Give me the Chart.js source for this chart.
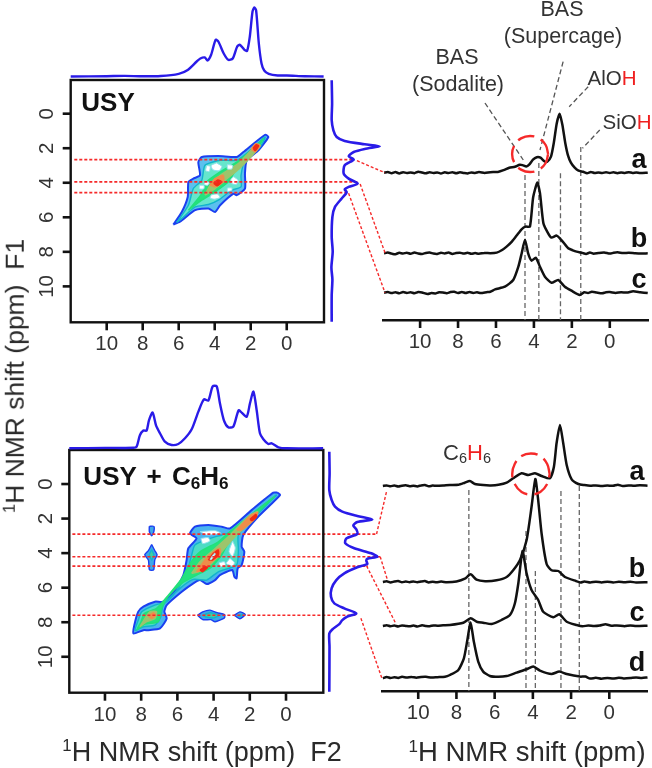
<!DOCTYPE html>
<html>
<head>
<meta charset="utf-8">
<script src="https://cdn.jsdelivr.net/npm/chart.js@4"></script>
<style>
  html, body { margin: 0; padding: 0; background: #fff; }
  #fig { position: relative; width: 652px; height: 768px; overflow: hidden; font-family: "Liberation Sans", Arial, sans-serif; color: #333; filter: blur(0.4px); }
  #fig canvas { position: absolute; left: 0; top: 0; }
  .lbl { position: absolute; transform: translate(-50%, -50%); white-space: nowrap; font-size: 21.5px; line-height: 1; }
  .bold { font-weight: bold; color: #111; }
  .trace { font-size: 27px; }
  .title { font-size: 26.5px; color: #2a2a2a; }
  .red { color: #f02020; }
  sub { font-size: 0.66em; vertical-align: -0.22em; line-height: 0; }
  sup { font-size: 0.62em; vertical-align: 0.55em; line-height: 0; }
</style>
</head>
<body>
<div id="fig">
  <canvas id="c1" width="652" height="768"></canvas>
  <canvas id="c2" width="652" height="768"></canvas>
  <canvas id="c3" width="652" height="768"></canvas>
  <canvas id="c4" width="652" height="768"></canvas>
  <canvas id="c5" width="652" height="768"></canvas>
  <canvas id="c6" width="652" height="768"></canvas>
  <canvas id="c7" width="652" height="768"></canvas>
  <canvas id="c8" width="652" height="768"></canvas>

  <div class="lbl bold" style="left:108px;top:102px;font-size:26px">USY</div>
  <div class="lbl bold" style="left:156px;top:476px;font-size:26px;word-spacing:3px">USY + C<sub>6</sub>H<sub>6</sub></div>

  <div class="lbl" style="left:562px;top:10px">BAS</div>
  <div class="lbl" style="left:563px;top:37px">(Supercage)</div>
  <div class="lbl" style="left:457px;top:58px">BAS</div>
  <div class="lbl" style="left:458px;top:85px">(Sodalite)</div>
  <div class="lbl" style="left:612px;top:78px;font-size:20.5px">AlO<span class="red">H</span></div>
  <div class="lbl" style="left:627px;top:122px;font-size:20.5px">SiO<span class="red">H</span></div>
  <div class="lbl" style="left:467px;top:453px;font-size:22px">C<sub>6</sub><span class="red">H</span><sub>6</sub></div>

  <div class="lbl bold trace" style="left:639px;top:159px">a</div>
  <div class="lbl bold trace" style="left:639px;top:238px">b</div>
  <div class="lbl bold trace" style="left:639px;top:279px">c</div>
  <div class="lbl bold trace" style="left:637px;top:471px">a</div>
  <div class="lbl bold trace" style="left:637px;top:568px">b</div>
  <div class="lbl bold trace" style="left:637px;top:612px">c</div>
  <div class="lbl bold trace" style="left:637px;top:662px">d</div>

  <div class="lbl title" style="left:15px;top:376px;transform:translate(-50%,-50%) rotate(-90deg)"><sup>1</sup>H NMR shift (ppm)&nbsp; F1</div>
  <div class="lbl title" style="left:202px;top:752px;font-size:27px"><sup>1</sup>H NMR shift (ppm)&nbsp; F2</div>
  <div class="lbl title" style="left:527px;top:752px;font-size:27.5px"><sup>1</sup>H NMR shift (ppm)</div>
</div>

<script>
// tick labels
const ppmTicks = [10, 8, 6, 4, 2, 0];

// red slice positions in F1 (ppm) and how far right each dash runs
const slicesTop = [2.66, 3.95, 4.57];
const sliceEndsTop = [-3.67, -3.94, -3.33];
const slicesBot = [2.9, 4.21, 4.75, 7.6];
const sliceEndsBot = [-5.0, -5.2, -4.53, -3.9];

// F2 projections [ppm, intensity]
const projTopUsy = [[12,0],[10,.3],[9,.6],[8,.2],[7,.5],[6,2.7],[5.5,6.6],[5,15],[4.8,18],[4.55,19],[4.4,16],[4.2,21.7],[3.95,36.7],[3.8,35],[3.5,23],[3.25,16.7],[3,18],[2.75,30],[2.6,31.7],[2.35,26.7],[2.2,25.7],[2.05,40],[1.9,65],[1.8,69],[1.7,66],[1.55,33],[1.4,13],[1.25,6],[1,2.7],[.5,1],[0,1],[-1,.3],[-2.05,0]];
const projTopBenz = [[11.97,0],[10,.4],[8.43,.5],[8.25,1.7],[8.07,13],[7.88,17.7],[7.7,17.7],[7.57,28],[7.37,35.7],[7.18,23],[6.96,15],[6.69,6.7],[6.32,3.3],[5.95,4.3],[5.58,10],[5.21,19],[4.84,36.7],[4.53,49],[4.29,47.7],[4.05,62],[3.83,62],[3.65,45],[3.43,28],[3.19,21],[2.91,21.7],[2.62,38],[2.45,35.7],[2.17,31.7],[1.99,45],[1.8,56.7],[1.62,38],[1.44,15],[1.25,9],[.98,4.3],[.79,5],[.42,1],[-.04,0],[-2.05,0]];

// F1 projections [intensity, ppm]
const projRightUsy = [[0,-1.93],[.4,-.58],[0,.38],[1.7,.96],[5,1.35],[13,1.58],[33,1.77],[48,1.89],[33,2.04],[22,2.22],[17,2.47],[22,2.66],[13,2.99],[12,3.47],[17,3.76],[26,4.05],[17,4.24],[13,4.39],[15,4.55],[10,4.91],[3.3,5.4],[.7,5.97],[0,7.13],[1,8],[-.3,8.9],[.7,9.6],[0,10.5],[0,12.05]];
const projRightBenz = [[0,-1.87],[.3,-.62],[0,.35],[2.3,.92],[5.7,1.31],[13,1.6],[28,1.85],[43,2.05],[28,2.2],[24,2.39],[27,2.62],[28,2.89],[17,3.15],[16,3.43],[25,3.72],[42,4.01],[48,4.21],[38,4.32],[37,4.44],[38,4.63],[28,4.82],[15,5.17],[7,5.56],[2.3,6.04],[1.7,6.53],[5,6.91],[15,7.2],[27,7.49],[18,7.68],[13,7.88],[10,8.11],[3,8.42],[0,8.65],[.2,9.42],[0,12.02]];

// 1D slices [ppm, height]
const usyA = [[11.9,0],[11.7,.8],[11.5,-.5],[11.3,.6],[11.1,-.7],[10.9,.5],[10.7,-.3],[10.5,.2],[10.3,-.5],[10.1,1],[9.9,.2],[9.7,-.6],[9.5,.5],[9.3,-.3],[9.1,.3],[8.9,-.8],[8.7,.4],[8.5,-.4],[8.3,.5],[8.1,-.6],[7.9,.5],[7.7,-.2],[7.5,-.7],[7.3,.3],[7.1,-.3],[6.9,.6],[6.6,-.2],[6.3,.5],[5.9,.8],[5.6,2.5],[5.3,5],[5,6],[4.75,8],[4.6,7.6],[4.4,6.3],[4.25,8],[4.05,13],[3.85,15.5],[3.65,15],[3.45,11.5],[3.3,11],[3.1,16],[2.95,30],[2.8,49],[2.65,59],[2.5,48],[2.35,30],[2.2,17],[2.05,10],[1.85,5],[1.65,2],[1.4,.9],[1.2,-.5],[1,.7],[.8,-.3],[.6,.3],[.4,-.4],[.2,.5],[0,-.3],[-.2,.4],[-.4,-.5],[-.6,.3],[-.8,-.2],[-1,.5],[-1.2,-.2],[-1.4,.3],[-1.6,-.4],[-2,0]];
const usyB = [[11.9,0],[11.7,.7],[11.5,-.3],[11.3,-.9],[11.1,.5],[10.9,-.3],[10.7,.6],[10.5,-.5],[10.3,.8],[10.1,-.2],[9.9,-.7],[9.7,.3],[9.5,.7],[9.3,-.3],[9.1,-.6],[8.9,.5],[8.7,-.2],[8.5,.7],[8.3,-.6],[8.1,.2],[7.9,.6],[7.7,-.3],[7.5,.5],[7.3,-.5],[7.1,.2],[6.9,-.5],[6.6,.4],[6.3,.1],[5.96,.7],[5.7,3],[5.44,6.7],[5.15,12],[4.9,18],[4.65,24],[4.44,26.7],[4.21,26.7],[4.04,56],[3.82,70.7],[3.68,60],[3.5,30],[3.25,20],[3.07,15.7],[2.8,17.7],[2.54,13],[2.19,5],[1.95,3],[1.75,1.7],[1.45,.4],[1.25,-.6],[1.05,.7],[.85,-.4],[.6,.3],[.3,.8],[0,-.3],[-.2,.5],[-.4,1],[-.7,.2],[-1,.6],[-1.3,.1],[-1.6,-.3],[-2,0]];
const usyC = [[11.9,0],[11.7,.6],[11.5,-.4],[11.3,.5],[11.1,-.6],[10.9,.6],[10.7,-.2],[10.5,.4],[10.3,-.5],[10.1,.6],[9.9,.2],[9.6,-1.3],[9.4,-.4],[9.2,-.7],[9,.5],[8.8,.2],[8.6,-.5],[8.4,.6],[8.2,.9],[8,-.2],[7.8,.7],[7.6,-.3],[7.4,.6],[7.2,-.2],[7,.4],[6.8,-.4],[6.5,.5],[6.3,1],[6.05,3.3],[5.53,6],[5.09,12.7],[4.82,26],[4.65,39],[4.47,53],[4.3,39],[4.12,32],[3.9,35],[3.68,26],[3.42,16],[3.07,10],[2.72,12.7],[2.37,6],[2.02,2],[1.58,-2.3],[1.35,.5],[1.15,-.3],[.95,.9],[.7,.2],[.4,-.5],[.2,.4],[0,.6],[-.3,-.2],[-.6,.4],[-.9,.1],[-1.23,1.4],[-1.6,.5],[-2,-.4]];

const benzA = [[11.85,0],[11.65,.6],[11.45,-.3],[11.25,.5],[11.05,-.5],[10.85,.3],[10.65,.7],[10.45,-.2],[10.25,.2],[10.05,-.4],[9.85,.6],[9.65,1],[9.45,-.3],[9.25,.4],[9.05,.2],[8.7,.5],[8.34,1],[7.9,1.2],[7.56,3.3],[7.3,5],[7.03,2],[6.6,.9],[6.2,.6],[5.8,1.2],[5.37,3.3],[5.03,7.7],[4.59,12.7],[4.24,11],[3.89,12.7],[3.54,10],[3.11,7.7],[2.9,19],[2.76,42.7],[2.58,61],[2.41,42.7],[2.23,21],[1.97,6.7],[1.62,2],[1.3,.9],[1,.2],[.7,.6],[.4,.1],[.1,.5],[-.2,.2],[-.45,1.3],[-.7,-.1],[-1,.6],[-1.3,.2],[-1.6,.8],[-2,.3]];
const benzB = [[11.85,0],[11.65,.7],[11.45,-.4],[11.25,.4],[11.05,.9],[10.85,-.3],[10.65,.5],[10.45,-.2],[10.25,.6],[10.05,-.3],[9.85,.4],[9.65,.9],[9.45,-.4],[9.25,.3],[9.05,-.2],[8.8,.4],[8.5,-.3],[8,.5],[7.56,3.3],[7.26,7.7],[6.95,2.3],[6.5,.8],[5.9,1.7],[5.37,5],[5.03,11.7],[4.68,21.7],[4.33,41.7],[4.07,75],[3.87,103],[3.72,81.7],[3.54,48],[3.28,18],[3.02,11.7],[2.67,11],[2.32,5],[1.75,1],[1.5,-.4],[1.3,.5],[1,-.5],[.7,.3],[.4,-.4],[.1,.3],[-.2,-.5],[-.5,.2],[-.8,-.3],[-1.1,.3],[-1.4,-.5],[-2,-.3]];
const benzC = [[11.85,0],[11.65,.8],[11.45,-.2],[11.25,.5],[11.05,-.4],[10.85,.6],[10.65,.1],[10.45,-.3],[10.25,.5],[10.05,-.4],[9.8,.7],[9.6,.1],[9.4,-.2],[9.2,.6],[9,.3],[8.7,.7],[8.34,1],[7.64,3.3],[7.26,7.7],[6.9,4],[6.6,3.3],[6.16,2],[5.64,6],[5.2,11],[4.94,22.7],[4.76,42.7],[4.54,75],[4.33,52.7],[4.07,36],[3.72,26],[3.46,14.3],[2.93,8.7],[2.62,11.7],[2.23,4.3],[1.71,1],[1.4,-.3],[1.1,.5],[.8,-.1],[.5,.4],[.2,1.8],[-.1,.2],[-.4,.6],[-.8,-.2],[-1.1,.5],[-1.4,0],[-2,.3]];
const benzD = [[11.85,0],[11.65,1.3],[11.45,.3],[11.25,1],[11.05,.4],[10.85,1.5],[10.6,.8],[10.35,1.4],[10.1,.5],[9.85,1.3],[9.6,1.5],[9.3,.7],[9,1.1],[8.6,1.5],[8.34,3.3],[7.9,8.3],[7.61,20],[7.43,38],[7.26,55.7],[7.09,36.7],[6.86,16.7],[6.6,6.7],[6.25,2.3],[5.8,1.5],[5.37,2.3],[4.85,5.7],[4.33,9],[3.98,11.7],[3.63,7.7],[3.02,4.3],[2.62,6.7],[2.23,4.3],[1.54,1.7],[1.25,1.7],[1,-.3],[.7,.5],[.4,-.5],[.1,.4],[-.2,-.3],[-.5,.6],[-.75,-.1],[-1.1,.2],[-1.4,.8],[-1.7,.3],[-2,.9]];

// offsets of each slice above the axis
const offsetsTop = [147.3, 66.7, 27.3];
const offsetsBot = [205, 109, 65, 12.7];

// gray guide lines [ppm, top of guide]
const guidesTop = [[4.47,145],[3.74,157],[2.6,146.7],[1.53,173]];
const guidesBot = [[7.35,201],[4.36,160],[3.87,120],[2.53,200],[1.57,205]];

// leader lines to the labels, [ppm, height] pairs
const leadersTop = [[[6.58,217],[4.56,160]],[[2.46,258.3],[3.68,170]],[[1.14,233.3],[2.14,213.3]],[[.53,190],[1.44,171.7]]];

// dashed rings
const ringTop = [[3.25,166],[3.38,175],[3.73,181.6],[4.2,184],[4.68,181.6],[5.02,175],[5.15,166],[5.02,157],[4.68,150.4],[4.2,148],[3.73,150.4],[3.38,157],[3.25,166]];
const ringBot = [[3.12,217],[3.25,227],[3.61,235],[4.1,237.5],[4.59,235],[4.95,227],[5.08,217],[4.95,207],[4.59,199],[4.1,196.5],[3.61,199],[3.25,207],[3.12,217]];

// red connectors from the F1 projection to each slice
const connectorsTop = [[[13.33,159.3],[11.85,147.3]],[[13.16,136],[11.85,67.3]],[[13.77,126.7],[11.85,27.3]]];
const connectorsBot = [[[12.18,157],[11.66,199.3]],[[11.99,134.3],[11.61,111]],[[12.7,125],[11.18,67.7]],[[13,72.7],[11.9,12.7]]];

// contour levels, USY [F2 ppm, F1 ppm]
const usyL1 = [[6.3,6.42],[5.83,5.69],[5.5,4.82],[5.46,3.95],[5.19,3.76],[4.82,3.57],[4.91,2.8],[4.72,2.51],[3.8,2.45],[2.78,2.51],[2.41,2.22],[1.2,1.22],[1.02,1.35],[1.57,2.12],[2.22,2.7],[2.32,3.47],[2.32,4.34],[2.78,4.72],[2.96,4.63],[3.7,5.3],[3.98,5.69],[4.35,5.49],[5.09,5.59],[5.93,6.26]];
const usyL2 = [[6.11,6.3],[5.46,5.3],[5.19,4.34],[4.72,3.86],[4.54,2.99],[3.7,2.7],[2.78,2.7],[2.13,2.22],[1.2,1.35],[1.48,1.93],[2.32,2.7],[2.54,3.57],[2.54,4.24],[3.06,4.43],[3.8,5.01],[4.35,5.26],[5.09,5.4],[5.83,6.07]];
const usyL3 = [[5.46,5.59],[4.72,4.63],[4.45,3.95],[3.7,3.37],[2.78,2.8],[1.76,1.93],[1.3,1.45],[1.85,2.31],[2.78,3.18],[3.24,3.95],[3.98,4.53],[4.72,5.01]];
const usyL4 = [[4.54,4.72],[4.26,4.14],[3.7,3.57],[2.69,2.89],[1.67,1.79],[1.48,1.87],[2.59,3.14],[3.43,3.86],[3.98,4.34]];
const usyL5 = [[[4.26,4.14],[3.98,3.76],[3.52,3.57],[3.52,3.95],[3.98,4.24]],[[1.98,2.06],[1.72,1.74],[1.48,1.83],[1.76,2.22]]];
const usyL6 = [[[4.06,4.03],[3.83,3.84],[3.61,3.95],[3.87,4.18]],[[1.87,1.99],[1.69,1.79],[1.56,1.87],[1.76,2.14]]];
const usyHoles = [[[3.9,2.85],[3.6,3.05],[3.75,3.3],[4.1,3.25],[4.2,3]],[[2.95,3.65],[2.7,3.85],[2.8,4.1],[3.05,4.05],[3.1,3.8]],[[4.5,3.9],[4.3,4],[4.4,4.15],[4.6,4.1]],[[4.2,4.7],[3.85,4.65],[3.7,4.85],[4,4.95],[4.25,4.9]],[[4.45,3],[4.25,3.05],[4.3,3.35],[4.5,3.3]],[[3.3,2.95],[3,3],[3.05,3.2],[3.3,3.2]],[[4.85,4.15],[4.6,4.15],[4.6,4.35],[4.85,4.35]],[[3.3,4.3],[3.05,4.3],[3.05,4.45],[3.3,4.5]]];

// contour levels, USY + C6H6
const benzL1 = [[.46,.5],[.33,.64],[1.53,1.89],[2.36,2.95],[2.45,3.63],[2.3,3.92],[2.45,4.69],[2.67,4.88],[2.73,5.46],[2.85,5.37],[2.97,4.98],[3.65,5.27],[3.92,5.56],[4.38,5.79],[4.75,5.56],[5.12,5.75],[5.76,6.24],[6.59,7.01],[6.72,7.39],[6.59,7.78],[6.96,8.36],[7.6,8.46],[7.88,8.46],[8.43,8.65],[8.38,8.17],[8.16,7.39],[7.88,7.1],[7.24,6.81],[6.78,6.81],[6.13,6.14],[5.67,5.27],[5.49,4.4],[5.4,3.73],[4.94,3.15],[5.3,2.86],[5.03,2.47],[4.29,2.37],[3.55,2.47],[3.09,2.57],[1.9,1.51],[.7,.5]];
const benzL2 = [[.52,.64],[1.71,1.89],[2.63,2.95],[2.63,3.82],[2.73,4.69],[3.74,5.08],[4.38,5.56],[5.12,5.52],[5.86,6.04],[6.78,7.01],[6.91,7.68],[7.24,8.17],[7.88,8.26],[8.34,8.49],[8.16,7.88],[7.97,7.39],[7.24,7.01],[6.59,6.81],[5.95,6.04],[5.49,5.17],[5.21,4.11],[5.03,3.53],[4.2,3.15],[3.55,2.95],[3,2.76],[1.8,1.7]];
const benzL3 = [[.61,.7],[2,2.08],[3,3.05],[3.55,4.11],[4.2,4.88],[4.94,5.27],[5.76,5.75],[6.5,6.5],[6.87,7.2],[7.05,7.97],[7.79,8.11],[8.25,8.46],[8.01,7.97],[7.83,7.49],[7.15,7.2],[6.5,6.43],[5.76,5.46],[5.3,4.59],[4.75,3.92],[3.74,3.34],[3,2.66],[2.08,1.89]];
const benzL4 = [[[5.21,5.17],[4.75,4.5],[4.01,3.82],[3.09,2.95],[1.99,1.8],[1.56,1.6],[1.8,2.08],[2.82,3.05],[3.55,3.92],[4.2,4.69],[4.84,5.08]],[[8.07,8.26],[7.79,7.78],[7.51,7.39],[7.15,7.39],[7.24,7.78],[7.7,7.97]]];
const benzL5 = [[[4.94,5.08],[4.48,4.4],[4.01,3.92],[3.65,3.73],[3.65,4.11],[4.2,4.59],[4.66,5.02]],[[2.72,2.66],[1.99,1.85],[1.56,1.64],[1.71,1.99],[2.45,2.66]],[[7.6,7.64],[7.33,7.45],[7.2,7.59],[7.42,7.78]]];
const benzL6 = [[[4.29,4.4],[4.01,4.01],[3.74,3.82],[3.74,4.11],[4.07,4.4]],[[4.75,4.98],[4.48,4.79],[4.33,4.83],[4.62,5.08]],[[1.99,2.05],[1.67,1.76],[1.62,1.89],[1.86,2.12]]];
const benzHoles = [[[4.7,3.15],[4.3,3.1],[4.2,3.3],[4.6,3.45]],[[2.95,3.3],[2.8,3.7],[2.95,4.2],[3.15,3.9]],[[3.1,4.3],[2.85,4.55],[2.95,4.75],[3.3,4.6]],[[4.75,2.75],[3.9,2.7],[3.6,2.85],[4.4,2.95]],[[3.7,4.55],[3.4,4.5],[3.35,4.7],[3.65,4.8]],[[4.2,4.35],[3.95,4],[3.9,4.05],[4.15,4.4]]];
const benzIslandsOuter = [[[7.55,2.45],[7.3,2.45],[7.3,2.75],[7.42,3],[7.55,2.75]],[[7.42,3.5],[7.25,3.85],[7.12,4.1],[7.25,4.4],[7.3,4.95],[7.42,5],[7.55,4.95],[7.6,4.4],[7.8,4.1],[7.6,3.85]],[[4.88,7.6],[4.6,7.4],[4.2,7.3],[3.8,7.45],[3.4,7.55],[3.4,7.75],[3.92,7.97],[4.15,7.85],[4.6,7.85]],[[2.85,7.6],[2.55,7.4],[2.25,7.55],[2.55,7.8]]];
const benzIslandsInner = [[[7.42,3.8],[7.3,4.1],[7.42,4.4],[7.55,4.1]],[[4.6,7.6],[4.2,7.45],[3.7,7.6],[4,7.75],[4.4,7.7]],[[2.65,7.6],[2.4,7.55],[2.55,7.68]]];

const W = 652, H = 768;
const FONT = '"Liberation Sans", Arial, sans-serif';
const RED = '#f52a2a';
const BLUE = '#2a1be8';
const TICK_LEN = 8;

function pts(list) {
    return list.map(p => ({ x: p[0], y: p[1] }));
}

function lineSet(list, color, width, extra) {
    return Object.assign({
        data: pts(list),
        showLine: true,
        borderColor: color,
        borderWidth: width,
        pointRadius: 0,
        tension: 0,
        clip: false
    }, extra || {});
}

function contour(list, stroke, fillColor, width) {
    return {
        data: pts(list.concat([list[0]])),
        showLine: true,
        borderColor: stroke,
        borderWidth: width || 1.4,
        backgroundColor: fillColor,
        fill: 'shape',
        pointRadius: 0,
        tension: 0.2
    };
}

// frame round the 2D panels and tick marks on the visible axes
const framePlugin = {
    id: 'frame',
    afterDraw(chart, args, opts) {
        const ctx = chart.ctx;
        const a = chart.chartArea;
        ctx.save();
        ctx.strokeStyle = '#111';
        ctx.lineWidth = 2.4;
        if (opts.on) ctx.strokeRect(a.left, a.top, a.right - a.left, a.bottom - a.top);
        ['x', 'y'].forEach(id => {
            const s = chart.scales[id];
            if (s.options.display === false) return;
            ctx.lineWidth = 2.6;
            s.ticks.forEach((t, i) => {
                const p = s.getPixelForTick(i);
                ctx.beginPath();
                if (id === 'x') { ctx.moveTo(p, a.bottom); ctx.lineTo(p, a.bottom + TICK_LEN); }
                else { ctx.moveTo(a.left, p); ctx.lineTo(a.left - TICK_LEN, p); }
                ctx.stroke();
            });
        });
        ctx.restore();
    }
};

function visibleAxis(ticks, min, max, size, extra) {
    return Object.assign({
        type: 'linear',
        reverse: true,
        min: min,
        max: max,
        afterBuildTicks: s => { s.ticks = ticks.map(v => ({ value: v })); },
        afterFit: s => { if (s.isHorizontal()) s.height = size; else s.width = size; },
        grid: { display: false, drawTicks: true, tickLength: TICK_LEN },
        border: { display: false },
        ticks: {
            color: '#333',
            font: { family: FONT, size: 20.5 },
            padding: 2,
            maxRotation: 0,
            callback: v => String(v)
        }
    }, extra || {});
}

function hiddenAxis(min, max, reverse) {
    return { type: 'linear', display: false, min: min, max: max, reverse: !!reverse };
}

function panel(id, box, scales, datasets, frame) {
    const yw = scales.y.display === false ? 0 : 50;
    const xh = scales.x.display === false ? 0 : 36;
    return new Chart(document.getElementById(id), {
        type: 'scatter',
        data: { datasets: datasets },
        options: {
            responsive: false,
            animation: false,
            events: [],
            layout: { padding: { left: box.l - yw, right: W - box.r, top: box.t, bottom: H - box.b - xh } },
            plugins: { legend: { display: false }, tooltip: { enabled: false }, frame: { on: !!frame } },
            scales: scales
        },
        plugins: [framePlugin]
    });
}

function yTickAxis(min, max) {
    const ax = visibleAxis(ppmTicks, min, max, 50);
    ax.ticks = Object.assign({}, ax.ticks, { minRotation: 90, maxRotation: 90, crossAlign: 'center', padding: 4 });
    return ax;
}

function slices(values, ends) {
    return values.map((v, i) => lineSet([[11.8, v], [ends[i], v]], RED, 1.6, { borderDash: [3, 2] }));
}

function fills(list, stroke, fillColor) {
    return list.map(p => contour(p, stroke, fillColor));
}

function offsetTrace(list, off) {
    return lineSet(list.map(p => [p[0], p[1] + off]), '#111', 2.5, { tension: 0.2 });
}

function stackSets(traces, offsets, guides, connectors, ring, leaders) {
    const sets = [];
    connectors.forEach(c => sets.push(lineSet(c, RED, 1.4, { borderDash: [3, 2] })));
    sets.push(lineSet(ring, RED, 2.4, { tension: 0.4, borderDash: [17, 7] }));
    traces.forEach((t, i) => sets.push(offsetTrace(t, offsets[i])));
    guides.forEach(g => sets.push(lineSet([[g[0], g[1]], [g[0], 0]], '#666', 1.3, { borderDash: [5, 3] })));
    leaders.forEach(l => sets.push(lineSet(l, '#555', 1.3, { borderDash: [5, 3] })));
    return sets;
}

function stackAxis(min, max) {
    return visibleAxis(ppmTicks, min, max, 36, {
        border: { display: true, width: 2.4, color: '#111' }
    });
}

// top row
const boxTop = { l: 70.7, r: 324, t: 80, b: 322.3 };
panel('c1', boxTop, { x: visibleAxis(ppmTicks, -2.07, 12, 36), y: yTickAxis(-1.95, 12.08) },
    slices(slicesTop, sliceEndsTop)
        .concat(usyHoles.map(h => contour(h, '#8fe0ee', '#fff', 1)))
        .concat(fills(usyL6, '#f02a14', '#f02a14'))
        .concat(fills(usyL5, '#ef8d4a', '#ef8d4a'))
        .concat([contour(usyL4, '#9dc46c', '#9dc46c'), contour(usyL3, '#22e07a', '#25e27e'), contour(usyL2, '#12b4cc', '#66e6cc'), contour(usyL1, '#1b3ff0', '#5cc0ee', 2)]),
    true);
panel('c2', { l: 70.7, r: 324, t: 0, b: 80 }, { x: hiddenAxis(-2.07, 12, true), y: hiddenAxis(-3.5, 76.5) },
    [lineSet(projTopUsy, BLUE, 2.4, { tension: 0.25 })]);
panel('c3', { l: 324, r: 382, t: 80, b: 322.3 }, { x: hiddenAxis(-7.7, 50.3), y: hiddenAxis(-1.95, 12.08, true) },
    [lineSet(projRightUsy, BLUE, 2.6, { tension: 0.25 })]);
panel('c4', { l: 383.3, r: 648.3, t: 0, b: 320 }, { x: stackAxis(-2.03, 11.94), y: hiddenAxis(0, 320) },
    stackSets([usyA, usyB, usyC], offsetsTop, guidesTop, connectorsTop, ringTop, leadersTop));

// bottom row
const boxBot = { l: 69.3, r: 323.3, t: 450, b: 692.7 };
panel('c5', boxBot, { x: visibleAxis(ppmTicks, -2.06, 11.97, 36), y: yTickAxis(-1.97, 12.08) },
    slices(slicesBot, sliceEndsBot)
        .concat(benzHoles.map(h => contour(h, '#8fe0ee', '#fff', 1)))
        .concat(fills(benzL6, '#f02a14', '#f02a14'))
        .concat(fills(benzL5, '#ef8d4a', '#ef8d4a'))
        .concat(fills(benzL4, '#9dc46c', '#9dc46c'))
        .concat(fills(benzIslandsInner, '#12b4cc', '#3fd0a0'))
        .concat(fills(benzIslandsOuter, '#1b3ff0', '#3fa8e8'))
        .concat([contour(benzL3, '#22e07a', '#25e27e'), contour(benzL2, '#12b4cc', '#4ddcc4'), contour(benzL1, '#1b3ff0', '#4ab4ee', 2)]),
    true);
panel('c6', { l: 69.3, r: 323.3, t: 370, b: 450 }, { x: hiddenAxis(-2.06, 11.97, true), y: hiddenAxis(-1.7, 78.3) },
    [lineSet(projTopBenz, BLUE, 2.4, { tension: 0.25 })]);
panel('c7', { l: 323.3, r: 382, t: 450, b: 692.7 }, { x: hiddenAxis(-6, 52.7), y: hiddenAxis(-1.97, 12.08, true) },
    [lineSet(projRightBenz, BLUE, 2.6, { tension: 0.25 })]);
panel('c8', { l: 382.3, r: 647.7, t: 400, b: 691 }, { x: stackAxis(-2.01, 11.88), y: hiddenAxis(0, 291) },
    stackSets([benzA, benzB, benzC, benzD], offsetsBot, guidesBot, connectorsBot, ringBot, []));
</script>
</body>
</html>
